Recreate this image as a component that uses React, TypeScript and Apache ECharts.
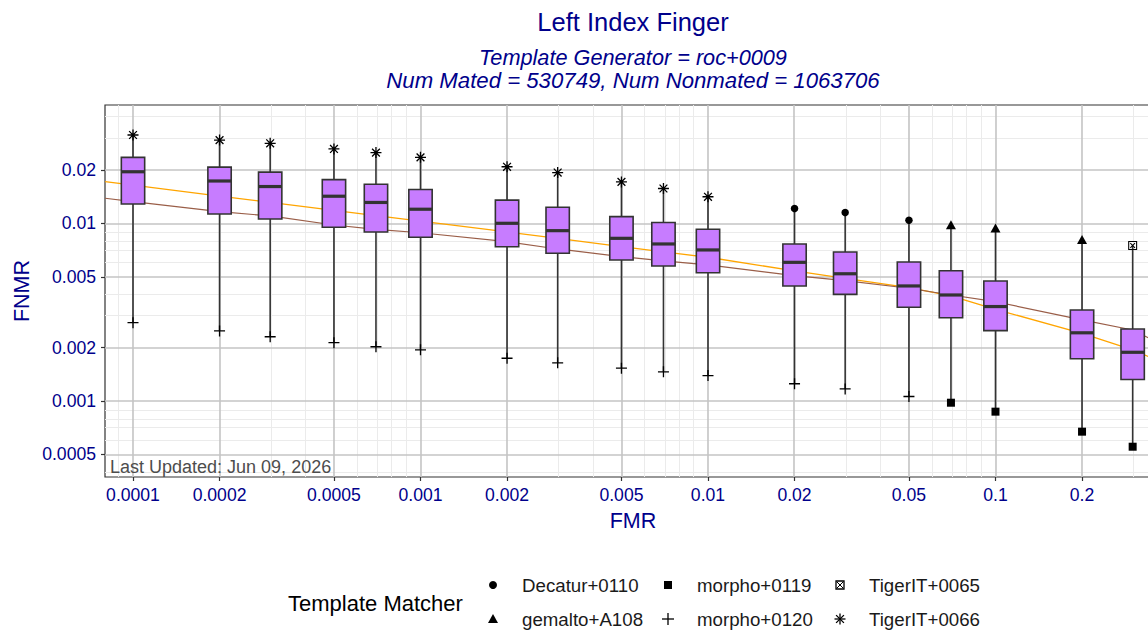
import React, { useEffect, useRef } from "react";
import * as echarts from "echarts";

// ---------- data ----------
const fmrValues = [0.0001, 0.0002, 0.0003, 0.0005, 0.0007, 0.001, 0.002, 0.003, 0.005, 0.007, 0.01, 0.02, 0.03, 0.05, 0.07, 0.1, 0.2, 0.3];
const fnmrMax = [0.0314, 0.0294, 0.0282, 0.0262, 0.025, 0.0235, 0.0208, 0.0193, 0.0171, 0.0157, 0.0141, 0.0121, 0.0115, 0.0104, 0.0098, 0.0094, 0.0081, 0.0075];
const fnmrQ3 = [0.0235, 0.0207, 0.0194, 0.0176, 0.0166, 0.0155, 0.0135, 0.0123, 0.0109, 0.0101, 0.00925, 0.00765, 0.0069, 0.00606, 0.00541, 0.00473, 0.00325, 0.00254];
const fnmrMedian = [0.0195, 0.0173, 0.0161, 0.0142, 0.0131, 0.012, 0.01, 0.00909, 0.00823, 0.00765, 0.00708, 0.00603, 0.0052, 0.00444, 0.00395, 0.0034, 0.00242, 0.00188];
const fnmrQ1 = [0.01284, 0.01128, 0.01057, 0.0095, 0.00894, 0.00834, 0.00738, 0.00678, 0.00622, 0.00575, 0.00527, 0.00444, 0.00398, 0.00337, 0.00294, 0.00249, 0.00173, 0.00132];
const fnmrMin = [0.00276, 0.00248, 0.0023, 0.00213, 0.00202, 0.00194, 0.00174, 0.00164, 0.00153, 0.00146, 0.00139, 0.00125, 0.00117, 0.00106, 0.000978, 0.000871, 0.000672, 0.000553];
const worstMatcher = [
  "TigerIT+0066", "TigerIT+0066", "TigerIT+0066", "TigerIT+0066", "TigerIT+0066", "TigerIT+0066",
  "TigerIT+0066", "TigerIT+0066", "TigerIT+0066", "TigerIT+0066", "TigerIT+0066",
  "Decatur+0110", "Decatur+0110", "Decatur+0110",
  "gemalto+A108", "gemalto+A108", "gemalto+A108",
  "TigerIT+0065",
];
const bestMatcher = [
  "morpho+0120", "morpho+0120", "morpho+0120", "morpho+0120", "morpho+0120", "morpho+0120", "morpho+0120",
  "morpho+0120", "morpho+0120", "morpho+0120", "morpho+0120", "morpho+0120", "morpho+0120", "morpho+0120",
  "morpho+0119", "morpho+0119", "morpho+0119", "morpho+0119",
];
const matchers = ["Decatur+0110", "gemalto+A108", "morpho+0119", "morpho+0120", "TigerIT+0065", "TigerIT+0066"];

// reference curves
const curveFmr = [0.00008, 0.0001, 0.0002, 0.0003, 0.0005, 0.0007, 0.001, 0.002, 0.003, 0.005, 0.007, 0.01, 0.02, 0.03, 0.05, 0.07, 0.1, 0.2, 0.3, 0.34];
const orangeFnmr = [0.01714, 0.01638, 0.01422, 0.0131, 0.01182, 0.01105, 0.01029, 0.00894, 0.00823, 0.0074, 0.00691, 0.00644, 0.0054, 0.0049, 0.00434, 0.0039, 0.00328, 0.0024, 0.00194, 0.00178];
const brownFnmr = [0.01383, 0.01323, 0.01163, 0.011, 0.00978, 0.00925, 0.00885, 0.00788, 0.00717, 0.00649, 0.00614, 0.00583, 0.00507, 0.00476, 0.00431, 0.00395, 0.00362, 0.00286, 0.00251, 0.00227];

// axis ticks
const xTicks = [0.0001, 0.0002, 0.0005, 0.001, 0.002, 0.005, 0.01, 0.02, 0.05, 0.1, 0.2];
const yTicks = [0.0005, 0.001, 0.002, 0.005, 0.01, 0.02];

const title = "Left Index Finger";
const subtitle1 = "Template Generator = roc+0009";
const subtitle2 = "Num Mated = 530749, Num Nonmated = 1063706";
const xName = "FMR";
const yName = "FNMR";
const updatedText = "Last Updated: Jun 09, 2026";
const legendTitle = "Template Matcher";

// ---------- styling ----------
const FONT = "'Liberation Sans', Arial, Helvetica, sans-serif";
const BLUE = "#00008B";
const L = Math.log10;
const X_MIN = -4.0974;
const X_MAX = -0.4243;
const Y_MIN = -3.4277;
const Y_MAX = -1.3343;
const BOX_HALF = 0.0406;
const CHART_W = 1161;
const CHART_H = 630;

const PLUS = "path://M4.4,0H5.6V4.4H10V5.6H5.6V10H4.4V5.6H0V4.4H4.4Z";
const ASTER =
  "path://M4.4,0H5.6V4.4H10V5.6H5.6V10H4.4V5.6H0V4.4H4.4Z M1.04,1.88L1.88,1.04L8.96,8.12L8.12,8.96Z M8.12,1.04L8.96,1.88L1.88,8.96L1.04,8.12Z";
const BOXX =
  "path://M0,0H10V10H0Z M1.2,1.2V8.8H8.8V1.2Z M2,2.8L2.8,2L8,7.2L7.2,8Z M8,2.8L2.8,8L2,7.2L7.2,2Z";

const symbolOf: Record<string, { symbol: string; size: number | number[] }> = {
  "Decatur+0110": { symbol: "circle", size: 7.5 },
  "gemalto+A108": { symbol: "triangle", size: [10, 9] },
  "morpho+0119": { symbol: "rect", size: 8 },
  "morpho+0120": { symbol: PLUS, size: 11 },
  "TigerIT+0065": { symbol: BOXX, size: 9 },
  "TigerIT+0066": { symbol: ASTER, size: 11 },
};

function minorValues(lo: number, hi: number, majors: number[]) {
  const out: number[] = [];
  for (let e = -6; e <= 0; e++) {
    for (let k = 1; k <= 9; k++) {
      const v = k * Math.pow(10, e);
      const lv = L(v);
      if (lv > lo && lv < hi && !majors.some((m) => Math.abs(L(m) - lv) < 1e-6)) out.push(v);
    }
  }
  return out;
}

function tickFormatter(ticks: number[]) {
  return (v: number) => {
    const t = ticks.find((tt) => Math.abs(L(tt) - v) < 1e-6);
    return t === undefined ? "" : String(t);
  };
}

function buildOption() {
  const minorStyle = { color: "#EBEBEB", width: 1, type: "solid" };
  const majorStyle = { color: "#C4C4C4", width: 1.6, type: "solid" };
  const gridLineData: any[] = [
    ...minorValues(X_MIN, X_MAX, xTicks).map((v) => ({ xAxis: L(v), lineStyle: minorStyle })),
    ...minorValues(Y_MIN, Y_MAX, yTicks).map((v) => ({ yAxis: L(v), lineStyle: minorStyle })),
    ...xTicks.map((v) => ({ xAxis: L(v), lineStyle: majorStyle })),
    ...yTicks.map((v) => ({ yAxis: L(v), lineStyle: majorStyle })),
  ];

  const boxData = fmrValues.map((f, i) => [L(f), L(fnmrMin[i]), L(fnmrQ1[i]), L(fnmrMedian[i]), L(fnmrQ3[i]), L(fnmrMax[i])]);

  const scatterSeries = matchers.map((m) => {
    const pts: number[][] = [];
    fmrValues.forEach((f, i) => {
      if (worstMatcher[i] === m) pts.push([L(f), L(fnmrMax[i])]);
      if (bestMatcher[i] === m) pts.push([L(f), L(fnmrMin[i])]);
    });
    return {
      name: m,
      type: "scatter",
      z: 4,
      symbol: symbolOf[m].symbol,
      symbolSize: symbolOf[m].size,
      itemStyle: { color: "#000000", opacity: 1 },
      data: pts,
      silent: true,
    };
  });

  // legend drawn as graphic
  const legendCols = [493, 668, 840];
  const legendRows = [585, 619];
  const legendLayout: [string, number, number][] = [
    ["Decatur+0110", 0, 0],
    ["gemalto+A108", 0, 1],
    ["morpho+0119", 1, 0],
    ["morpho+0120", 1, 1],
    ["TigerIT+0065", 2, 0],
    ["TigerIT+0066", 2, 1],
  ];
  const stroke = (lw = 1.3) => ({ stroke: "#000", lineWidth: lw });
  const legendIcon = (m: string, cx: number, cy: number): any => {
    switch (m) {
      case "Decatur+0110":
        return { type: "circle", shape: { cx, cy, r: 4 }, style: { fill: "#000" } };
      case "gemalto+A108":
        return { type: "polygon", shape: { points: [[cx, cy - 5], [cx + 5, cy + 4], [cx - 5, cy + 4]] }, style: { fill: "#000" } };
      case "morpho+0119":
        return { type: "rect", shape: { x: cx - 4, y: cy - 4, width: 8, height: 8 }, style: { fill: "#000" } };
      case "morpho+0120":
        return {
          type: "group",
          children: [
            { type: "line", shape: { x1: cx - 6, y1: cy, x2: cx + 6, y2: cy }, style: stroke() },
            { type: "line", shape: { x1: cx, y1: cy - 6, x2: cx, y2: cy + 6 }, style: stroke() },
          ],
        };
      case "TigerIT+0065":
        return {
          type: "group",
          children: [
            { type: "rect", shape: { x: cx - 4, y: cy - 4, width: 8, height: 8 }, style: { fill: "none", stroke: "#000", lineWidth: 1.3 } },
            { type: "line", shape: { x1: cx - 3, y1: cy - 3, x2: cx + 3, y2: cy + 3 }, style: stroke(1) },
            { type: "line", shape: { x1: cx + 3, y1: cy - 3, x2: cx - 3, y2: cy + 3 }, style: stroke(1) },
          ],
        };
      default:
        return {
          type: "group",
          children: [
            { type: "line", shape: { x1: cx - 5.5, y1: cy, x2: cx + 5.5, y2: cy }, style: stroke() },
            { type: "line", shape: { x1: cx, y1: cy - 5.5, x2: cx, y2: cy + 5.5 }, style: stroke() },
            { type: "line", shape: { x1: cx - 3.9, y1: cy - 3.9, x2: cx + 3.9, y2: cy + 3.9 }, style: stroke() },
            { type: "line", shape: { x1: cx + 3.9, y1: cy - 3.9, x2: cx - 3.9, y2: cy + 3.9 }, style: stroke() },
          ],
        };
    }
  };
  const legendGraphics: any[] = [];
  legendLayout.forEach(([m, c, r]) => {
    const cx = legendCols[c];
    const cy = legendRows[r];
    legendGraphics.push(legendIcon(m, cx, cy));
    legendGraphics.push({
      type: "text",
      x: cx + 29,
      y: cy,
      style: { text: m, fill: "#1A1A1A", font: `18.7px ${FONT}`, textAlign: "left", textVerticalAlign: "middle", align: "left", verticalAlign: "middle" },
    });
  });

  const txt = (text: string, x: number, y: number, size: number, opts: any = {}) => ({
    type: "text",
    x,
    y,
    rotation: opts.rotation || 0,
    z: 10,
    style: {
      text,
      fill: opts.fill || BLUE,
      font: `${opts.italic ? "italic " : ""}${size}px ${FONT}`,
      textAlign: opts.align || "center",
      align: opts.align || "center",
      textVerticalAlign: "middle",
      verticalAlign: "middle",
    },
  });

  return {
    animation: false,
    backgroundColor: "#FFFFFF",
    textStyle: { fontFamily: FONT },
    grid: {
      left: 105,
      right: 0,
      top: 105,
      bottom: 153,
      show: true,
      backgroundColor: "#FFFFFF",
      borderColor: "#333333",
      borderWidth: 1.2,
    },
    xAxis: {
      type: "value",
      min: X_MIN,
      max: X_MAX,
      axisLine: { show: false },
      splitLine: { show: false },
      axisTick: { show: true, length: 4, lineStyle: { color: "#333333", width: 1.2 }, customValues: xTicks.map(L) },
      axisLabel: {
        show: true,
        customValues: xTicks.map(L),
        formatter: tickFormatter(xTicks),
        color: BLUE,
        fontSize: 17.6,
        fontFamily: FONT,
        margin: 9,
        showMinLabel: true,
        showMaxLabel: true,
      },
    },
    yAxis: {
      type: "value",
      min: Y_MIN,
      max: Y_MAX,
      axisLine: { show: false },
      splitLine: { show: false },
      axisTick: { show: true, length: 4, lineStyle: { color: "#333333", width: 1.2 }, customValues: yTicks.map(L) },
      axisLabel: {
        show: true,
        customValues: yTicks.map(L),
        formatter: tickFormatter(yTicks),
        color: BLUE,
        fontSize: 17.6,
        fontFamily: FONT,
        margin: 9,
      },
    },
    series: [
      {
        name: "Reference curve A",
        type: "line",
        z: 2,
        showSymbol: false,
        symbol: "none",
        silent: true,
        lineStyle: { color: "#FFA500", width: 1.3 },
        data: curveFmr.map((f, i) => [L(f), L(orangeFnmr[i])]),
        markLine: {
          z: 1,
          silent: true,
          symbol: ["none", "none"],
          label: { show: false },
          emphasis: { disabled: true },
          animation: false,
          data: gridLineData,
        },
      },
      {
        name: "Reference curve B",
        type: "line",
        z: 2,
        showSymbol: false,
        symbol: "none",
        silent: true,
        lineStyle: { color: "#9A5E48", width: 1.2 },
        data: curveFmr.map((f, i) => [L(f), L(brownFnmr[i])]),
      },
      {
        name: "FNMR distribution",
        type: "custom",
        z: 3,
        silent: true,
        encode: { x: 0, y: [1, 2, 3, 4, 5] },
        data: boxData,
        renderItem: (params: any, api: any) => {
          const x = api.value(0);
          const pMin = api.coord([x, api.value(1)]);
          const pQ1 = api.coord([x, api.value(2)]);
          const pMed = api.coord([x, api.value(3)]);
          const pQ3 = api.coord([x, api.value(4)]);
          const pMax = api.coord([x, api.value(5)]);
          const left = api.coord([x - BOX_HALF, api.value(3)])[0];
          const right = api.coord([x + BOX_HALF, api.value(3)])[0];
          const cx = pMed[0];
          const ls = { stroke: "#333333", lineWidth: 1.6 };
          return {
            type: "group",
            children: [
              { type: "line", shape: { x1: cx, y1: pMax[1], x2: cx, y2: pQ3[1] }, style: ls },
              { type: "line", shape: { x1: cx, y1: pQ1[1], x2: cx, y2: pMin[1] }, style: ls },
              {
                type: "rect",
                shape: { x: left, y: pQ3[1], width: right - left, height: pQ1[1] - pQ3[1] },
                style: { fill: "#C77CFF", stroke: "#333333", lineWidth: 1.6 },
              },
              { type: "line", shape: { x1: left, y1: pMed[1], x2: right, y2: pMed[1] }, style: { stroke: "#333333", lineWidth: 3.2 } },
            ],
          };
        },
      },
      ...scatterSeries,
    ],
    graphic: [
      txt(title, 633, 22, 25.5),
      txt(subtitle1, 633, 57, 21.7, { italic: true }),
      txt(subtitle2, 633, 80, 22.2, { italic: true }),
      txt(xName, 633, 521, 21.5),
      txt(yName, 22, 291, 21.5, { rotation: Math.PI / 2 }),
      txt(updatedText, 110, 467, 18, { fill: "#4D4D4D", align: "left" }),
      txt(legendTitle, 288, 603, 22, { fill: "#000000", align: "left" }),
      ...legendGraphics,
    ],
  };
}

export default function App() {
  const ref = useRef<HTMLDivElement>(null);
  useEffect(() => {
    document.body.style.margin = "0";
    document.body.style.overflow = "hidden";
    const chart = echarts.init(ref.current as HTMLDivElement, null, { renderer: "svg" });
    chart.setOption(buildOption() as any);
    return () => chart.dispose();
  }, []);
  return (
    <div style={{ width: 1148, height: 630, overflow: "hidden" }}>
      <div ref={ref} style={{ width: CHART_W, height: CHART_H }} />
    </div>
  );
}
